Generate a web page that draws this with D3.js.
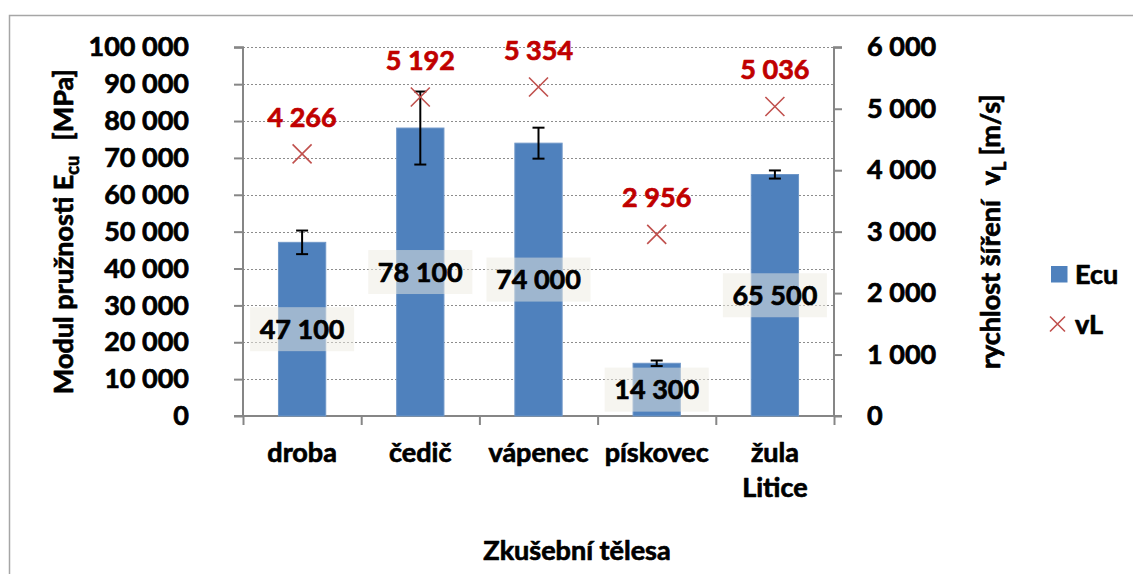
<!DOCTYPE html>
<html>
<head>
<meta charset="utf-8">
<script src="https://cdn.jsdelivr.net/npm/d3@7"></script>
<style>
  html, body { margin: 0; padding: 0; background: #fff; }
  svg text { font-family: Lato, "Open Sans", sans-serif; font-weight: 700; }
</style>
</head>
<body>
<svg id="chart" width="1133" height="574"></svg>
<script>
// ---- data ----
const categories = ["droba", "čedič", "vápenec", "pískovec", "žula Litice"];
const ecuValues = [47100, 78100, 74000, 14300, 65500];
const ecuErrors = [3200, 9900, 4200, 750, 1100];
const vlValues = [4266, 5192, 5354, 2956, 5036];
const leftTicks = [0, 10000, 20000, 30000, 40000, 50000, 60000, 70000, 80000, 90000, 100000];
const rightTicks = [0, 1000, 2000, 3000, 4000, 5000, 6000];
const seriesNames = ["Ecu", "vL"];

const fmt = v => d3.format(",")(v).replace(/,/g, " ");
const FS = "27px";

const svg = d3.select("#chart");
const plot = { left: 243, right: 834, top: 47.3, bottom: 416 };

// chart border
svg.append("rect").attr("x", 9.5).attr("y", 15.5).attr("width", 1300).attr("height", 700)
  .attr("fill", "#fff").attr("stroke", "#a6a6a6").attr("stroke-width", 1.5);

const x = d3.scaleBand().domain(categories).range([plot.left, plot.right])
  .paddingInner(0.6).paddingOuter(0.3);
const yL = d3.scaleLinear().domain([0, 100000]).range([plot.bottom, plot.top]);
const yR = d3.scaleLinear().domain([0, 6000]).range([plot.bottom, plot.top]);

// gridlines
svg.append("g").selectAll("line").data(leftTicks.filter(d => d > 0)).join("line")
  .attr("x1", plot.left).attr("x2", plot.right)
  .attr("y1", d => Math.round(yL(d)) + 0.5).attr("y2", d => Math.round(yL(d)) + 0.5)
  .attr("stroke", "#8c8c8c").attr("stroke-width", 1.2).attr("stroke-dasharray", "2,2");

// left axis
const axL = svg.append("g").attr("transform", `translate(${plot.left},0)`)
  .call(d3.axisLeft(yL).tickValues(leftTicks).tickSize(9).tickPadding(54 - 9).tickFormat(fmt));
// right axis
const axR = svg.append("g").attr("transform", `translate(${plot.right},0)`)
  .call(d3.axisRight(yR).tickValues(rightTicks).tickSize(8).tickPadding(33 - 8).tickFormat(fmt));
// bottom axis (category boundaries)
const boundaries = d3.range(categories.length + 1).map(i => plot.left + i * x.step());
const axB = svg.append("g").attr("transform", `translate(0,${plot.bottom})`)
  .call(d3.axisBottom(d3.scaleLinear().domain([plot.left, plot.right]).range([plot.left, plot.right]))
    .tickValues(boundaries).tickSize(9).tickFormat(""));

[axL, axR, axB].forEach(a => {
  a.selectAll(".domain").attr("stroke", "#868686").attr("stroke-width", 2);
  a.selectAll(".tick line").attr("stroke", "#868686").attr("stroke-width", 2);
  a.selectAll(".tick text").attr("fill", "#000").style("font-size", FS).style("font-family", "Lato").style("font-weight", 700);
});
axL.select(".domain").attr("d", `M-9,${plot.top}H0V${plot.bottom}H-9`);
axR.select(".domain").attr("d", `M8,${plot.top}H0V${plot.bottom}H8`);
axB.select(".domain").attr("d", `M${plot.left},0H${plot.right}`);

// category labels
const catG = svg.append("g");
categories.forEach(c => {
  const cx = x(c) + x.bandwidth() / 2;
  const t = catG.append("text").attr("x", cx).attr("y", 462)
    .attr("text-anchor", "middle").style("font-size", FS).attr("fill", "#000");
  c.split(" ").forEach((w, i) => {
    t.append("tspan").attr("x", cx).attr("dy", i === 0 ? 0 : 35).text(w);
  });
});

// bars
svg.append("g").selectAll("rect").data(ecuValues).join("rect")
  .attr("x", (d, i) => x(categories[i])).attr("width", x.bandwidth())
  .attr("y", d => yL(d)).attr("height", d => yL(0) - yL(d))
  .attr("fill", "#4f81bd").attr("stroke", "#6f97c8").attr("stroke-width", 1);

// error bars
const eg = svg.append("g").attr("stroke", "#000").attr("stroke-width", 2);
ecuValues.forEach((v, i) => {
  const cx = x(categories[i]) + x.bandwidth() / 2;
  const y1 = yL(v + ecuErrors[i]), y2 = yL(v - ecuErrors[i]);
  eg.append("line").attr("x1", cx).attr("x2", cx).attr("y1", y1).attr("y2", y2);
  eg.append("line").attr("x1", cx - 6).attr("x2", cx + 6).attr("y1", y1).attr("y2", y1);
  eg.append("line").attr("x1", cx - 6).attr("x2", cx + 6).attr("y1", y2).attr("y2", y2);
});

// bar data labels
const lg = svg.append("g");
ecuValues.forEach((v, i) => {
  const cx = x(categories[i]) + x.bandwidth() / 2;
  const cy = (yL(v) + yL(0)) / 2;
  lg.append("rect").attr("x", cx - 52).attr("y", cy - 22).attr("width", 104).attr("height", 44)
    .attr("fill", "rgb(238,236,225)").attr("fill-opacity", 0.5);
  lg.append("text").attr("x", cx).attr("y", cy).attr("dy", "0.36em").attr("text-anchor", "middle")
    .style("font-size", FS).attr("fill", "#000").text(fmt(v));
});

// vL markers
const mk = svg.append("g").attr("stroke", "#c0504d").attr("stroke-width", 1.6);
vlValues.forEach((v, i) => {
  const cx = x(categories[i]) + x.bandwidth() / 2, cy = yR(v), s = 9.5;
  mk.append("path").attr("d", `M${cx - s},${cy - s}L${cx + s},${cy + s}M${cx - s},${cy + s}L${cx + s},${cy - s}`);
  svg.append("text").attr("x", cx).attr("y", cy - 37).attr("dy", "0.36em").attr("text-anchor", "middle")
    .style("font-size", FS).attr("fill", "#c00000").text(fmt(v));
});

// axis titles
const tl = svg.append("text").attr("transform", `translate(63,${(plot.top + plot.bottom) / 2}) rotate(-90)`)
  .attr("text-anchor", "middle").attr("dy", "0.36em").style("font-size", FS).attr("fill", "#000");
tl.append("tspan").text("Modul pružnosti E");
tl.append("tspan").attr("dy", 6).style("font-size", "18px").text("cu");
tl.append("tspan").attr("dy", -6).attr("dx", 15).text("[MPa]");

const tr = svg.append("text").attr("transform", `translate(990,${(plot.top + plot.bottom) / 2}) rotate(-90)`)
  .attr("text-anchor", "middle").attr("dy", "0.36em").style("font-size", FS).attr("fill", "#000");
tr.append("tspan").text("rychlost šíření");
tr.append("tspan").attr("dx", 15).text("v");
tr.append("tspan").attr("dy", 6).style("font-size", "18px").text("L");
tr.append("tspan").attr("dy", -6).attr("dx", 6).text("[m/s]");

svg.append("text").attr("x", 577).attr("y", 560).attr("text-anchor", "middle")
  .style("font-size", FS).attr("fill", "#000").text("Zkušební tělesa");

// legend
const leg = svg.append("g");
leg.append("rect").attr("x", 1051).attr("y", 266).attr("width", 16.5).attr("height", 16.5).attr("fill", "#4f81bd");
leg.append("text").attr("x", 1075).attr("y", 274.5).attr("dy", "0.36em").style("font-size", FS).attr("fill", "#000").text(seriesNames[0]);
leg.append("path").attr("d", "M1050,316.5L1065,331.5M1050,331.5L1065,316.5").attr("stroke", "#c0504d").attr("stroke-width", 1.6);
leg.append("text").attr("x", 1075).attr("y", 324.5).attr("dy", "0.36em").style("font-size", FS).attr("fill", "#000").text(seriesNames[1]);

// heavier text weight to approximate the original bold face
svg.selectAll("text").each(function () {
  const t = d3.select(this);
  t.attr("stroke", t.attr("fill") || "#000").attr("stroke-width", 0.7).attr("stroke-linejoin", "round");
});
</script>
</body>
</html>
